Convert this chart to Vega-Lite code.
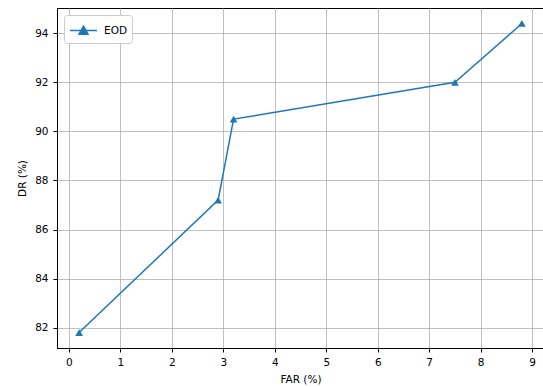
{
  "$schema": "https://vega.github.io/schema/vega-lite/v6.json",
  "autosize": {"type": "none"},
  "padding": {"left": 57, "top": 8, "right": 0, "bottom": 39},
  "width": 487,
  "height": 340,
  "background": "white",
  "config": {
    "font": "DejaVu Sans",
    "view": {"stroke": "black", "strokeWidth": 1},
    "axis": {
      "domainColor": "black",
      "domainWidth": 1,
      "tickColor": "black",
      "tickSize": 4,
      "tickWidth": 1,
      "labelFont": "DejaVu Sans",
      "labelFontSize": 10.5,
      "labelColor": "black",
      "labelPadding": 5,
      "titleFont": "DejaVu Sans",
      "titleFontSize": 10.5,
      "titleFontWeight": "normal",
      "titleColor": "black",
      "gridColor": "#b0b0b0",
      "gridWidth": 0.8,
      "gridOpacity": 1
    },
    "legend": {
      "orient": "top-left",
      "offset": 7,
      "padding": 5,
      "strokeColor": "#cccccc",
      "fillColor": "white",
      "cornerRadius": 3,
      "labelFont": "DejaVu Sans",
      "labelFontSize": 10.5,
      "labelColor": "black",
      "title": null
    }
  },
  "data": {
    "values": [
      {"series": "EOD", "far": 0.2, "dr": 81.8},
      {"series": "EOD", "far": 2.9, "dr": 87.2},
      {"series": "EOD", "far": 3.2, "dr": 90.5},
      {"series": "EOD", "far": 7.5, "dr": 92.0},
      {"series": "EOD", "far": 8.8, "dr": 94.4}
    ]
  },
  "mark": {
    "type": "line",
    "strokeWidth": 1.5,
    "point": {"shape": "triangle-up", "size": 60, "filled": true}
  },
  "encoding": {
    "x": {
      "field": "far",
      "type": "quantitative",
      "title": "FAR (%)",
      "scale": {"domain": [-0.23, 9.23], "nice": false, "zero": false},
      "axis": {"values": [0, 1, 2, 3, 4, 5, 6, 7, 8, 9], "format": "d", "titlePadding": 7}
    },
    "y": {
      "field": "dr",
      "type": "quantitative",
      "title": "DR (%)",
      "scale": {"domain": [81.17, 95.03], "nice": false, "zero": false},
      "axis": {"values": [82, 84, 86, 88, 90, 92, 94], "format": "d", "titlePadding": 7}
    },
    "color": {
      "field": "series",
      "type": "nominal",
      "scale": {"range": ["#1f77b4"]},
      "legend": {
        "symbolType": "M-1.4,0H1.4M0,-0.45L0.47,0.38L-0.47,0.38Z",
        "symbolSize": 370,
        "symbolStrokeWidth": 1.5,
        "symbolFillColor": "#1f77b4",
        "symbolOffset": 4,
        "labelOffset": 10
      }
    }
  }
}
